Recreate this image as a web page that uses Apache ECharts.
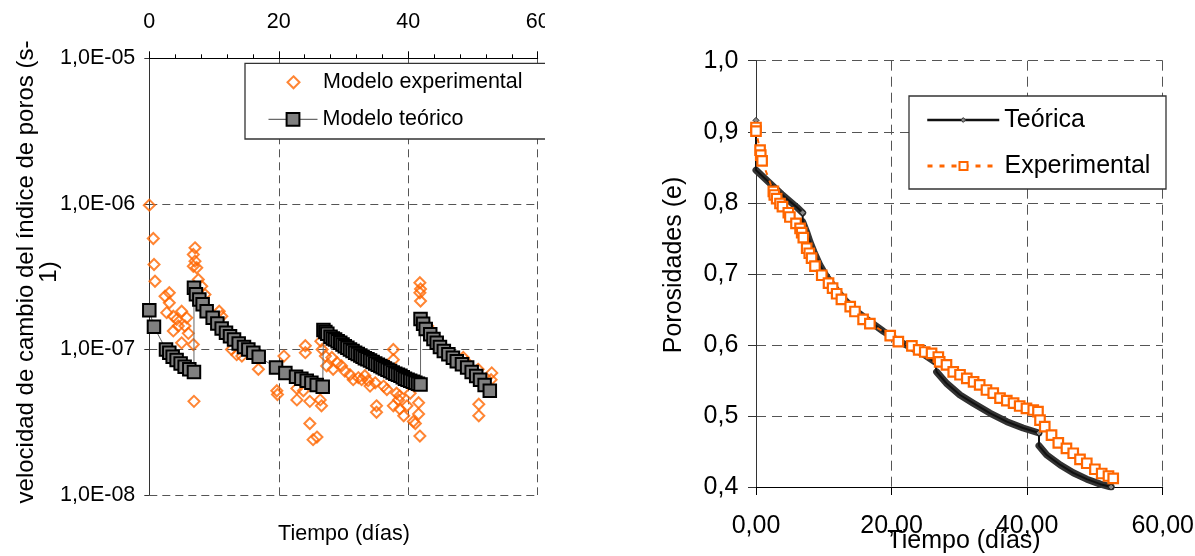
<!DOCTYPE html>
<html><head><meta charset="utf-8">
<script src="https://cdn.jsdelivr.net/npm/echarts@6/dist/echarts.min.js"></script>
<style>
html,body{margin:0;padding:0;background:#fff;width:1195px;height:556px;overflow:hidden;}
#left{position:absolute;left:0;top:0;width:545px;height:556px;}
#right{position:absolute;left:545px;top:0;width:650px;height:556px;}
</style></head><body>
<div id="left"></div><div id="right"></div>
<script>
// ---------- LEFT CHART DATA (velocidad de cambio del índice de poros, s-1) ----------
const leftXTickLabels = ['0', '20', '40', '60'];
const leftYTickLabels = ['1,0E-08', '1,0E-07', '1,0E-06', '1,0E-05'];

const velExperimental = [
  [0,9.8e-7],[0.62,5.78e-7],[0.73,3.83e-7],[0.88,2.94e-7],[2.43,2.32e-7],[3.09,2.45e-7],[2.69,1.79e-7],
  [3.09,2.09e-7],[3.71,1.69e-7],[4.23,1.61e-7],[5.0,1.83e-7],[5.78,1.65e-7],[3.71,1.34e-7],[4.48,1.45e-7],
  [5.0,1.11e-7],[6.03,1.29e-7],[6.8,1.08e-7],[5.5,1.45e-7],[6.9,0.44e-7],[7.06,4.99e-7],[6.8,4.49e-7],
  [7.06,4.04e-7],[6.8,3.73e-7],[7.33,3.64e-7],[7.57,3.02e-7],[8.1,2.72e-7],[8.6,2.38e-7],[10.8,1.83e-7],
  [11.2,1.69e-7],[12.7,1.0e-7],[13.5,0.92e-7],[14.3,0.90e-7],[16.85,0.73e-7],[20.8,0.90e-7],[19.7,0.52e-7],
  [19.8,0.49e-7],[22.8,0.54e-7],[22.8,0.45e-7],[23.8,0.52e-7],[24.1,1.06e-7],[24.1,0.95e-7],[24.8,0.44e-7],
  [24.8,0.31e-7],[25.3,0.24e-7],[25.9,0.25e-7],[26.4,0.45e-7],[26.6,0.41e-7],[26.7,1.0e-7],[26.5,1.14e-7],
  [27.2,0.90e-7],[27.4,0.77e-7],[28.2,0.88e-7],[28.4,0.73e-7],[29.0,0.81e-7],[29.7,0.77e-7],[30.2,0.71e-7],
  [31.0,0.67e-7],[31.5,0.62e-7],[32.3,0.64e-7],[32.8,0.62e-7],[33.3,0.66e-7],[33.8,0.61e-7],[34.1,0.56e-7],
  [34.9,0.59e-7],[35.1,0.41e-7],[35.1,0.37e-7],[36.2,0.56e-7],[36.7,0.53e-7],[37.7,1.0e-7],[37.7,0.85e-7],
  [37.7,0.41e-7],[38.2,0.50e-7],[38.5,0.45e-7],[38.7,0.48e-7],[38.7,0.39e-7],[39.3,0.35e-7],[39.8,0.41e-7],
  [40.3,0.50e-7],[40.8,0.32e-7],[41.1,0.31e-7],[41.6,0.43e-7],[41.6,0.36e-7],[41.8,0.254e-7],[41.8,2.87e-7],
  [41.9,2.6e-7],[41.8,2.45e-7],[41.9,2.15e-7],[43.0,1.45e-7],[44.5,1.15e-7],[48.5,0.88e-7],[49.1,0.81e-7],
  [50.8,0.73e-7],[52.9,0.69e-7],[52.8,0.62e-7],[50.9,0.42e-7],[50.9,0.35e-7]
];

const velTeoSeg1 = [[0,1.86e-7],[0.72,1.43e-7],[2.58,1.00e-7],[3.09,0.95e-7],[3.61,0.89e-7],[4.22,0.845e-7],
  [4.84,0.80e-7],[5.46,0.76e-7],[6.18,0.73e-7],[6.90,0.70e-7]];
const velTeoSeg2 = [[6.90,2.65e-7],[7.21,2.39e-7],[7.73,2.20e-7],[8.24,2.04e-7],[8.86,1.83e-7],[9.79,1.65e-7],
  [10.51,1.51e-7],[11.18,1.39e-7],[11.85,1.30e-7],[12.47,1.23e-7],[13.09,1.17e-7],[13.81,1.10e-7],[14.63,1.04e-7],
  [15.3,1.0e-7],[16.07,0.95e-7],[16.90,0.89e-7],[19.58,0.75e-7],[21.02,0.69e-7],[22.67,0.65e-7],[23.49,0.63e-7],
  [24.32,0.61e-7],[25.04,0.59e-7],[25.86,0.57e-7],[26.79,0.555e-7]];
const velTeoSeg3 = [[26.9,1.36e-7],[27.2,1.32e-7],[27.5,1.28e-7],[28.0,1.22e-7],[28.35,1.19e-7],[28.7,1.17e-7],
  [29.1,1.14e-7],[29.5,1.11e-7],[29.85,1.08e-7],[30.2,1.05e-7],[30.6,1.025e-7],[31.0,1.0e-7],[31.4,0.975e-7],
  [31.8,0.95e-7],[32.2,0.93e-7],[32.6,0.91e-7],[32.95,0.89e-7],[33.3,0.87e-7],[33.7,0.855e-7],[34.1,0.84e-7],
  [34.5,0.82e-7],[34.9,0.80e-7],[35.3,0.785e-7],[35.7,0.77e-7],[36.05,0.755e-7],[36.4,0.74e-7],[36.8,0.725e-7],
  [37.2,0.71e-7],[37.6,0.695e-7],[38.0,0.68e-7],[38.4,0.67e-7],[38.8,0.66e-7],[39.15,0.645e-7],[39.5,0.63e-7],
  [39.9,0.62e-7],[40.3,0.61e-7],[40.7,0.60e-7],[41.1,0.59e-7],[41.5,0.58e-7],[41.9,0.575e-7]];
const velTeoSeg4 = [[41.9,1.62e-7],[42.3,1.50e-7],[42.7,1.38e-7],[43.4,1.27e-7],[43.9,1.18e-7],[44.4,1.11e-7],
  [44.9,1.04e-7],[45.5,0.975e-7],[46.2,0.925e-7],[46.9,0.877e-7],[47.5,0.83e-7],[48.3,0.79e-7],[49.1,0.75e-7],
  [49.8,0.70e-7],[50.5,0.656e-7],[51.1,0.62e-7],[51.8,0.57e-7],[52.6,0.52e-7]];

// ---------- RIGHT CHART DATA (porosidades e) ----------
const rightXTickLabels = ['0,00', '20,00', '40,00', '60,00'];
const rightYTickLabels = ['0,4', '0,5', '0,6', '0,7', '0,8', '0,9', '1,0'];

const porTeoSeg0 = [[0,0.916]];
const porTeoSeg1 = [[0,0.846],[1.0,0.837],[2.56,0.823],[3.8,0.812],[5.0,0.802],[6.0,0.794],[6.88,0.786]];
const porTeoSeg2 = [[6.9,0.773],[7.47,0.759],[7.96,0.745],[8.55,0.731],[9.44,0.712],[10.42,0.696],[11.65,0.680],
  [13.13,0.663],[14.85,0.647],[16.8,0.633],[18.8,0.619],[20.75,0.607],[22.7,0.597],[24.7,0.587],[26.4,0.576]];
const porTeoSeg3 = [[26.65,0.562],[28.1,0.546],[30.1,0.5295],[32.05,0.518],[34.5,0.504],[37.0,0.492],[39.4,0.483],[41.75,0.476]];
const porTeoSeg4 = [[41.75,0.458],[42.9,0.445],[44.9,0.431],[46.8,0.420],[48.8,0.411],[50.8,0.404],[52.4,0.400]];

const porExperimental = [[0,0.906],[0,0.901],[0.6,0.874],[0.7,0.867],[0.9,0.859],[2.56,0.816],[2.7,0.811],
  [3.05,0.806],[3.54,0.799],[3.9,0.7945],[4.77,0.786],[5.0,0.780],[5.9,0.771],[6.5,0.764],[6.74,0.758],
  [6.98,0.751],[7.48,0.736],[7.86,0.729],[8.2,0.722],[8.7,0.711],[9.7,0.698],[10.7,0.687],[11.3,0.680],
  [11.9,0.672],[12.6,0.664],[13.9,0.654],[14.6,0.647],[15.8,0.636],[16.8,0.630],[19.8,0.613],[21.0,0.6045],
  [23.0,0.5985],[24.0,0.593],[24.9,0.590],[25.9,0.588],[26.9,0.583],[27.1,0.576],[28.1,0.572],[29.1,0.562],
  [30.1,0.558],[31.1,0.553],[32.1,0.548],[33.0,0.5436],[34.0,0.5365],[35.0,0.532],[36.0,0.525],[37.0,0.5215],
  [38.0,0.518],[38.9,0.514],[39.9,0.5107],[40.9,0.5084],[41.6,0.506],[41.9,0.494],[42.6,0.485],[43.6,0.473],
  [44.6,0.462],[45.8,0.4545],[46.8,0.4475],[47.8,0.439],[48.8,0.4334],[50.0,0.425],[51.0,0.419],[52.0,0.4155],
  [52.7,0.4122]];

// ---------- shared styles ----------
const FONT = '"Liberation Sans", Arial, sans-serif';
const ORANGE = '#FF6600';
const GRID_LINE = {show: true, lineStyle: {color: '#555', width: 1, type: [8, 5]}};

// ---------- LEFT CHART ----------
const velTeo = [].concat(velTeoSeg1, velTeoSeg2, velTeoSeg3, velTeoSeg4);
const leftChart = echarts.init(document.getElementById('left'), null, {renderer: 'canvas'});
leftChart.setOption({
  animation: false,
  grid: {left: 149.3, right: 7.3, top: 58.3, bottom: 61, containLabel: false, outerBoundsMode: 'none'},
  xAxis: {
    type: 'value', position: 'top', min: 0, max: 60, interval: 20,
    axisLine: {show: true, onZero: false, lineStyle: {color: '#000', width: 1}},
    axisTick: {show: true, length: 7, lineStyle: {color: '#000'}},
    minorTick: {show: true, splitNumber: 5, length: 4, lineStyle: {color: '#000'}},
    axisLabel: {margin: 25, fontSize: 21.5, fontFamily: FONT, color: '#000',
      formatter: v => leftXTickLabels[Math.round(v / 20)]},
    splitLine: GRID_LINE
  },
  yAxis: {
    type: 'log', logBase: 10, min: 1e-8, max: 1e-5,
    axisLine: {show: true, onZero: false, lineStyle: {color: '#333', width: 1}},
    axisTick: {show: true, length: 5, lineStyle: {color: '#333'}},
    axisLabel: {margin: 14, fontSize: 21.5, fontFamily: FONT, color: '#000',
      formatter: v => leftYTickLabels[Math.round(Math.log10(v)) + 8]},
    splitLine: GRID_LINE
  },
  legend: [
    {data: [{name: 'Modelo experimental', icon: 'path://M0,-1L1,0L0,1L-1,0Z'}], left: 286.5, top: 71.3, orient: 'vertical',
      padding: 0, itemWidth: 49, itemHeight: 12, selectedMode: false, z: 6,
      itemStyle: {color: 'rgba(255,255,255,0)', borderColor: ORANGE, borderWidth: 2},
      textStyle: {fontSize: 21.5, fontFamily: FONT, color: '#000', lineHeight: 22}},
    {data: ['Modelo teórico'], left: 268, top: 108.3, orient: 'vertical',
      padding: 0, itemWidth: 49, itemHeight: 16, selectedMode: false, z: 6,
      itemStyle: {color: '#808080', borderColor: '#000', borderWidth: 2},
      lineStyle: {color: '#444', width: 1},
      textStyle: {fontSize: 21.5, fontFamily: FONT, color: '#000', lineHeight: 22}}
  ],
  graphic: [
    {type: 'rect', z: 3, shape: {x: 245, y: 63.3, width: 330, height: 75.7},
      style: {fill: '#fff', stroke: '#333', lineWidth: 1.3}},
    {type: 'text', x: 38, y: 272, rotation: Math.PI / 2, z: 5,
      style: {text: 'velocidad de cambio del índice de poros (s-\n1)', align: 'center', verticalAlign: 'middle',
        font: '24px ' + FONT, fill: '#000', lineHeight: 23}},
    {type: 'text', x: 344, y: 534, z: 5,
      style: {text: 'Tiempo (días)', align: 'center', verticalAlign: 'middle', font: '21.5px ' + FONT, fill: '#000'}}
  ],
  series: [
    {name: 'Modelo experimental', type: 'scatter', data: velExperimental, symbol: 'diamond', symbolSize: 11,
      itemStyle: {color: 'rgba(255,255,255,0)', borderColor: ORANGE, borderWidth: 2}, z: 2},
    {name: 'Modelo teórico', type: 'line', data: velTeo, symbol: 'rect', symbolSize: 12.5, showAllSymbol: true,
      itemStyle: {color: '#808080', borderColor: '#000', borderWidth: 2},
      lineStyle: {color: '#666', width: 1}, z: 3}
  ]
});

// ---------- RIGHT CHART ----------
const porTeoSegments = [porTeoSeg0, porTeoSeg1, porTeoSeg2, porTeoSeg3, porTeoSeg4];
const porTeoAll = [].concat(...porTeoSegments);
const porTeoBand = [];
porTeoSegments.slice(1).forEach((seg, i) => { if (i > 0) porTeoBand.push('-'); seg.forEach(p => porTeoBand.push(p)); });
const markerIdx = [0];
{ let n = 0; porTeoSegments.forEach(seg => { n += seg.length; markerIdx.push(n - 1); }); }

const rightChart = echarts.init(document.getElementById('right'), null, {renderer: 'canvas'});
const GRID_LINE_R = {show: true, lineStyle: {color: '#555', width: 1, type: [10, 6]}};
rightChart.setOption({
  animation: false,
  grid: {left: 211, right: 32.3, top: 60.7, bottom: 69, containLabel: false, outerBoundsMode: 'none'},
  xAxis: {
    type: 'value', min: 0, max: 60, interval: 20,
    axisLine: {show: true, onZero: false, lineStyle: {color: '#000', width: 1}},
    axisTick: {show: true, length: 8, lineStyle: {color: '#000'}},
    axisLabel: {margin: 26.5, fontSize: 25, fontFamily: FONT, color: '#000',
      formatter: v => rightXTickLabels[Math.round(v / 20)]},
    splitLine: GRID_LINE_R
  },
  yAxis: {
    type: 'value', min: 0.4, max: 1.0, interval: 0.1,
    axisLine: {show: true, onZero: false, lineStyle: {color: '#333', width: 1}},
    axisTick: {show: true, length: 8, lineStyle: {color: '#333'}},
    axisLabel: {margin: 17.7, fontSize: 25, fontFamily: FONT, color: '#000',
      formatter: v => rightYTickLabels[Math.round(v * 10) - 4]},
    splitLine: GRID_LINE_R
  },
  legend: [
    {data: ['Teórica'], left: 381, top: 107, orient: 'vertical', padding: 0, itemWidth: 72, itemHeight: 6,
      selectedMode: false, z: 6,
      itemStyle: {color: '#888', borderColor: '#333', borderWidth: 1},
      lineStyle: {color: '#111', width: 2.5},
      textStyle: {fontSize: 25, fontFamily: FONT, color: '#000', lineHeight: 26}},
    {data: ['Experimental'], left: 381, top: 153, orient: 'vertical', padding: 0, itemWidth: 72, itemHeight: 10,
      selectedMode: false, z: 6,
      itemStyle: {color: '#fff', borderColor: ORANGE, borderWidth: 2},
      lineStyle: {color: ORANGE, width: 3, type: [5, 7]},
      textStyle: {fontSize: 25, fontFamily: FONT, color: '#000', lineHeight: 26}}
  ],
  graphic: [
    {type: 'rect', z: 3, shape: {x: 364, y: 96, width: 257, height: 93},
      style: {fill: '#fff', stroke: '#333', lineWidth: 1.3}},
    {type: 'text', x: 129, y: 265, rotation: Math.PI / 2, z: 5,
      style: {text: 'Porosidades (e)', align: 'center', verticalAlign: 'middle', font: '25px ' + FONT, fill: '#000'}},
    {type: 'text', x: 419, y: 541.5, z: 5,
      style: {text: 'Tiempo (días)', align: 'center', verticalAlign: 'middle', font: '25px ' + FONT, fill: '#000'}}
  ],
  series: [
    {name: 'Teórica', type: 'line', data: porTeoAll, z: 3, symbol: 'diamond', showAllSymbol: true,
      symbolSize: (v, p) => markerIdx.indexOf(p.dataIndex) >= 0 ? 6 : 0,
      itemStyle: {color: '#888', borderColor: '#222', borderWidth: 1},
      lineStyle: {color: '#111', width: 2}},
    {name: 'Teórica', type: 'line', data: porTeoBand, z: 2, symbol: 'none', connectNulls: false,
      lineStyle: {color: '#333', width: 7, cap: 'round', join: 'round'}},
    {name: 'Experimental', type: 'line', data: porExperimental, z: 4, symbol: 'rect', symbolSize: 9.5, showAllSymbol: true,
      itemStyle: {color: '#fff', borderColor: ORANGE, borderWidth: 2.2},
      lineStyle: {color: ORANGE, width: 2, type: [5, 6]}}
  ]
});
</script></body></html>
